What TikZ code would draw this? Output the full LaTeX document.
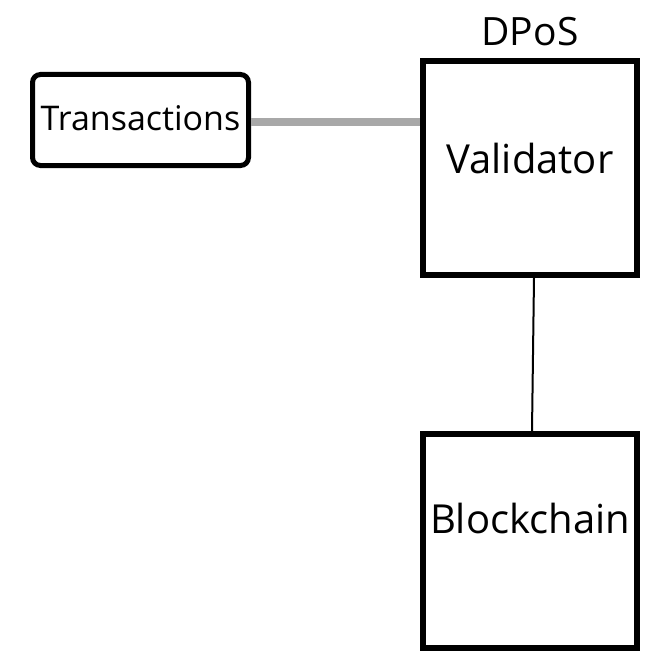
\documentclass[tikz,border=0pt]{standalone}
\usepackage{fontspec}
\setmainfont{Open Sans}
\usepackage{tikz}
\usetikzlibrary{positioning, calc}
\definecolor{linkgray}{HTML}{A8A8A8}

\begin{document}
\begin{tikzpicture}[
    x=1pt, y=-1pt,
    inputbox/.style={rectangle, draw=black, fill=white, line width=5pt, rounded corners=8pt, minimum width=216pt, minimum height=91pt, font=\fontsize{34}{39}\selectfont, text height=24pt, text depth=2pt, inner sep=0pt},
    bigbox/.style={rectangle, draw=black, fill=white, line width=6pt, minimum width=214pt, minimum height=214pt, font=\fontsize{40}{46}\selectfont, inner sep=0pt},
    feed/.style={line width=7pt, linkgray},
    link/.style={line width=2pt, black}
]
\useasboundingbox (0,0) rectangle (670,669);

\node[inputbox] (trans) at (140.5,120) {Transactions};
\node[bigbox, text height=32pt, text depth=22pt] (val) at (530,168) {Validator};
\node[bigbox, text height=32pt, text depth=48pt] (chain) at (530,541) {Blockchain};
\node[anchor=base, font=\fontsize{39}{44}\selectfont, inner sep=0pt] (dpos) at ([yshift=12pt]val.north) {DPoS};

\draw[feed] ([yshift=-2pt]trans.east) -- ([yshift=-2pt]trans.east -| val.west);
\draw[link] ([xshift=4pt]val.south) -- ([xshift=2pt]chain.north);
\end{tikzpicture}
\end{document}
